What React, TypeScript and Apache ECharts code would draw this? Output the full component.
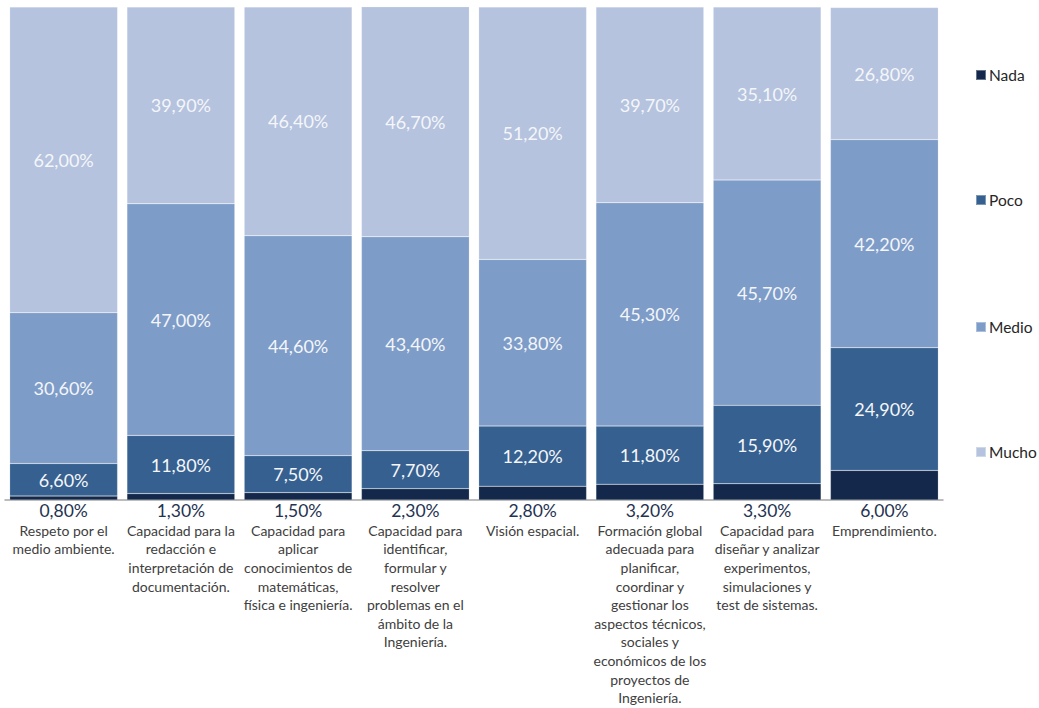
import React, { useEffect, useRef } from "react";
import * as echarts from "echarts";

const categories = [
  "Respeto por el\nmedio ambiente.",
  "Capacidad para la\nredacción e\ninterpretación de\ndocumentación.",
  "Capacidad para\naplicar\nconocimientos de\nmatemáticas,\nfísica e ingeniería.",
  "Capacidad para\nidentificar,\nformular y\nresolver\nproblemas en el\námbito de la\nIngeniería.",
  "Visión espacial.",
  "Formación global\nadecuada para\nplanificar,\ncoordinar y\ngestionar los\naspectos técnicos,\nsociales y\neconómicos de los\nproyectos de\nIngeniería.",
  "Capacidad para\ndiseñar y analizar\nexperimentos,\nsimulaciones y\ntest de sistemas.",
  "Emprendimiento.",
];

const nada = [0.8, 1.3, 1.5, 2.3, 2.8, 3.2, 3.3, 6.0];
const poco = [6.6, 11.8, 7.5, 7.7, 12.2, 11.8, 15.9, 24.9];
const medio = [30.6, 47.0, 44.6, 43.4, 33.8, 45.3, 45.7, 42.2];
const mucho = [62.0, 39.9, 46.4, 46.7, 51.2, 39.7, 35.1, 26.8];

const seriesNames = ["Nada", "Poco", "Medio", "Mucho"];
const colors = ["#13284a", "#36608f", "#7e9cc8", "#b5c3de"];

const fmt = (v: number) => v.toFixed(2).replace(".", ",") + "%";
const FONT = "Lato, 'Open Sans', sans-serif";

export default function App() {
  const ref = useRef<HTMLDivElement>(null);
  useEffect(() => {
    if (!ref.current) return;
    const chart = echarts.init(ref.current, undefined, { renderer: "svg" });
    const datas = [nada, poco, medio, mucho];
    const legendTops = [62, 187, 314, 439];
    chart.setOption({
      animation: false,
      textStyle: { fontFamily: FONT },
      grid: { left: 5, right: 96, top: 7, bottom: 208, containLabel: false },
      legend: seriesNames.map((n, i) => ({
        data: [n],
        orient: "vertical",
        left: 970,
        top: legendTops[i],
        itemWidth: 10,
        itemHeight: 10,
        itemGap: 4,
        icon: "rect",
        textStyle: { fontSize: 15.5, color: "#262626", fontFamily: FONT, padding: [0, 0, 0, -2] },
        selectedMode: false,
      })),
      xAxis: {
        type: "category",
        data: categories,
        axisTick: { show: false },
        axisLine: { lineStyle: { color: "#a6a6a6", width: 1.5 } },
        axisLabel: {
          interval: 0,
          margin: 21,
          fontSize: 14,
          lineHeight: 18.6,
          color: "#404040",
          fontFamily: FONT,
          verticalAlign: "top",
        },
      },
      yAxis: {
        type: "value",
        min: 0,
        max: 100,
        show: false,
        splitLine: { show: false },
      },
      series: datas.map((d, i) => ({
        name: seriesNames[i],
        type: "bar",
        stack: "total",
        data: d,
        barCategoryGap: "8%",
        itemStyle: { color: colors[i], borderColor: "rgba(255,255,255,0.35)", borderWidth: 0.5 },
        label:
          i === 0
            ? {
                show: true,
                position: "bottom",
                distance: 1,
                formatter: (p: any) => fmt(p.value),
                fontSize: 17.5,
                color: "#1f3352",
                fontFamily: FONT,
              }
            : {
                show: true,
                position: "inside",
                formatter: (p: any) => fmt(p.value),
                fontSize: 18,
                color: "#f4f6fa",
                fontFamily: FONT,
              },
      })),
    });
    return () => chart.dispose();
  }, []);
  return <div ref={ref} style={{ width: 1039, height: 708, position: "absolute", left: 0, top: 0 }} />;
}
